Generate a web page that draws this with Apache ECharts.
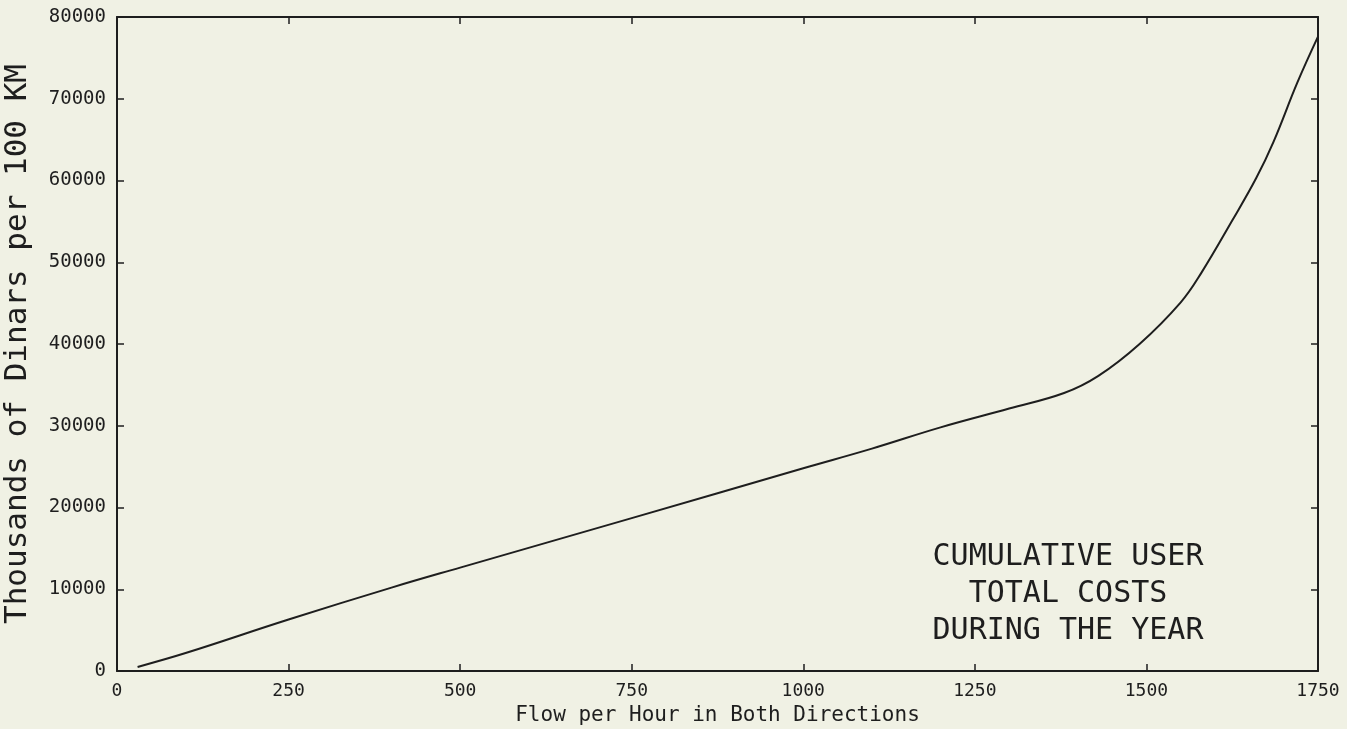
<!DOCTYPE html>
<html>
<head>
<meta charset="utf-8">
<script src="https://cdn.jsdelivr.net/npm/echarts@6/dist/echarts.min.js"></script>
<style>
  html, body { margin: 0; padding: 0; background: #f0f1e4; }
  #chart { width: 1347px; height: 729px; }
</style>
</head>
<body>
<div id="chart"></div>
<script>
// flow per hour (both directions)
const flow = [30, 100, 250, 400, 500, 750, 1000, 1100, 1200, 1300, 1380, 1430, 1490, 1550, 1580, 1625, 1660, 1685, 1720, 1750]
// cumulative user total costs, thousands of dinars per 100 km
const costs = [500, 2200, 6300, 10200, 12650, 18700, 24800, 27200, 29800, 32100, 34000, 36100, 40000, 45100, 48700, 55100, 60300, 64700, 72000, 77600]
const xTicks = ['0', '250', '500', '750', '1000', '1250', '1500', '1750']
const yTicks = ['0', '10000', '20000', '30000', '40000', '50000', '60000', '70000', '80000']
const noteLines = ['CUMULATIVE USER', 'TOTAL COSTS', 'DURING THE YEAR']

const ink = '#1e1e1e'
const mono = '"DejaVu Sans Mono", "Liberation Mono", monospace'

const chart = echarts.init(document.getElementById('chart'))

// axis frame: bottom/left carry labels, top/right only ticks
const frameAxis = (extra) => Object.assign({
  type: 'value',
  axisLine: { show: true, onZero: false, lineStyle: { color: ink, width: 2 } },
  axisTick: { show: true, inside: true, length: 7, lineStyle: { color: ink, width: 1.5 } },
  splitLine: { show: false }
}, extra)

const option = {
  backgroundColor: '#f0f1e4',
  animation: false,
  grid: { left: 117, right: 29, top: 17, bottom: 58, outerBoundsMode: 'none', containLabel: false },
  xAxis: [
    frameAxis({
      min: 0, max: 1750, interval: 250,
      axisLabel: {
        color: ink, fontFamily: mono, fontSize: 18, margin: 11,
        formatter: (v) => xTicks[Math.round(v / 250)] || ''
      },
      name: 'Flow per Hour in Both Directions',
      nameLocation: 'middle',
      nameGap: 32,
      nameTextStyle: { color: ink, fontFamily: mono, fontSize: 21 }
    }),
    frameAxis({ position: 'top', min: 0, max: 1750, interval: 250, axisLabel: { show: false } })
  ],
  yAxis: [
    frameAxis({
      min: 0, max: 80000, interval: 10000,
      axisLabel: {
        color: ink, fontFamily: mono, fontSize: 19, margin: 11,
        formatter: (v) => yTicks[Math.round(v / 10000)] || ''
      },
      name: 'Thousands of Dinars per 100 KM',
      nameLocation: 'middle',
      nameGap: 84,
      nameTextStyle: { color: ink, fontFamily: mono, fontSize: 31 }
    }),
    frameAxis({ position: 'right', min: 0, max: 80000, interval: 10000, axisLabel: { show: false } })
  ],
  graphic: noteLines.map((t, i) => ({
    type: 'text',
    style: {
      text: t,
      x: 1068, y: 557 + i * 37,
      textAlign: 'center', textVerticalAlign: 'middle',
      fill: ink, font: '30px ' + mono
    }
  })),
  series: [{
    type: 'line',
    data: flow.map((f, i) => [f, costs[i]]),
    smooth: 0.4,
    symbol: 'none',
    lineStyle: { color: ink, width: 2 }
  }]
}

chart.setOption(option)
</script>
</body>
</html>
